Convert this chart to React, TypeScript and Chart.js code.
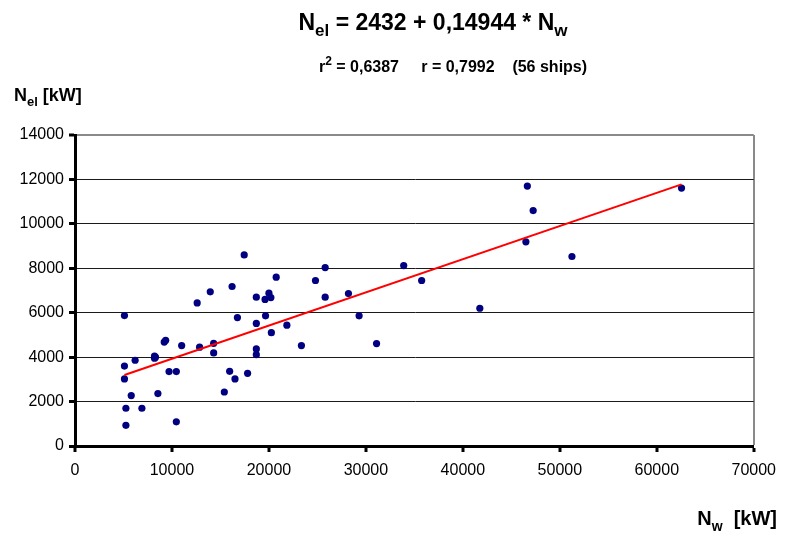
import React, { useEffect, useRef } from "react";
import { Chart, registerables } from "chart.js";

Chart.register(...registerables);

// Measured ships: installed power N_w [kW] vs electric power N_el [kW]
const shipNw: number[] = [
  5100, 5100, 5100, 5800, 5250, 5250, 6200, 6900, 8200, 8200,
  8550, 9200, 9350, 9700, 10450, 10450, 11000, 12600, 13950, 12850,
  14300, 14300, 15400, 15950, 16500, 16200, 16750, 17800, 18700, 18700,
  18700, 18700, 17450, 20750, 24800, 25800, 25800, 19600, 20000, 20200,
  19650, 20250, 21850, 23350, 28200, 29300, 31100, 33900, 35750, 41750,
  46650, 47250, 46500, 51250, 62550, 8300,
];
const shipNel: number[] = [
  5870, 3600, 3020, 2270, 1700, 930, 3860, 1700, 4050, 3950,
  2360, 4680, 4760, 3350, 3350, 1090, 4520, 6440, 6940, 4450,
  4620, 4190, 2430, 3360, 3020, 7180, 5780, 3270, 6700, 5520,
  4370, 4110, 8600, 7600, 7450, 8030, 6700, 6600, 6880, 6680,
  5860, 5100, 5440, 4520, 6860, 5860, 4610, 8120, 7450, 6200,
  11700, 10600, 9190, 8530, 11610, 4000,
];

// Regression line end points (N_el = 2432 + 0,14944 * N_w)
const regNw: number[] = [5100, 62550];
const regNel: number[] = [3194, 11779];

const xTicks: number[] = [0, 10000, 20000, 30000, 40000, 50000, 60000, 70000];
const yTicks: number[] = [0, 2000, 4000, 6000, 8000, 10000, 12000, 14000];

const FONT = "'Liberation Sans', Arial, Helvetica, sans-serif";

type Seg = { t: string; sub?: boolean; sup?: boolean };

function drawRich(
  ctx: CanvasRenderingContext2D,
  segs: Seg[],
  x: number,
  y: number,
  size: number,
  align: "left" | "center" | "right"
) {
  const subSize = Math.round(size * 0.72);
  const widths = segs.map((s) => {
    ctx.font = `bold ${s.sub || s.sup ? subSize : size}px ${FONT}`;
    return ctx.measureText(s.t).width;
  });
  const total = widths.reduce((a, b) => a + b, 0);
  let cx = align === "left" ? x : align === "center" ? x - total / 2 : x - total;
  ctx.textAlign = "left";
  ctx.textBaseline = "alphabetic";
  ctx.fillStyle = "#000";
  segs.forEach((s, i) => {
    ctx.font = `bold ${s.sub || s.sup ? subSize : size}px ${FONT}`;
    let dy = 0;
    if (s.sub) dy = size * 0.28;
    if (s.sup) dy = -size * 0.45;
    ctx.fillText(s.t, cx, y + dy);
    cx += widths[i];
  });
}

const textPlugin = {
  id: "texts",
  afterDraw(chart: any) {
    const ctx: CanvasRenderingContext2D = chart.ctx;
    ctx.save();
    drawRich(
      ctx,
      [
        { t: "N" },
        { t: "el", sub: true },
        { t: " = 2432 + 0,14944 * " },
        { t: "N" },
        { t: "w", sub: true },
      ],
      433,
      30,
      23,
      "center"
    );
    drawRich(
      ctx,
      [
        { t: "r" },
        { t: "2", sup: true },
        { t: " = 0,6387     r = 0,7992    (56 ships)" },
      ],
      453,
      72,
      16,
      "center"
    );
    drawRich(ctx, [{ t: "N" }, { t: "el", sub: true }, { t: " [kW]" }], 14, 101, 18, "left");
    drawRich(ctx, [{ t: "N" }, { t: "w", sub: true }, { t: "  [kW]" }], 777, 525, 20, "right");
    ctx.restore();
  },
};

export default function App() {
  const ref = useRef<HTMLCanvasElement | null>(null);

  useEffect(() => {
    document.body.style.margin = "0";
    const canvas = ref.current;
    if (!canvas) return;
    const chart = new Chart(canvas, {
      type: "scatter",
      data: {
        datasets: [
          {
            type: "line",
            data: regNw.map((x, i) => ({ x, y: regNel[i] })),
            borderColor: "#ff0000",
            borderWidth: 2,
            pointRadius: 0,
            fill: false,
            order: 1,
          } as any,
          {
            type: "scatter",
            data: shipNw.map((x, i) => ({ x, y: shipNel[i] })),
            backgroundColor: "#000080",
            borderColor: "#000080",
            pointRadius: 3.6,
            pointBorderWidth: 0,
            order: 2,
          },
        ],
      },
      options: {
        animation: false,
        responsive: false,
        devicePixelRatio: 1,
        layout: { padding: { left: 0, top: 135, right: 31, bottom: 0 } },
        plugins: {
          legend: { display: false },
          tooltip: { enabled: false },
          title: { display: false },
        },
        scales: {
          x: {
            type: "linear",
            min: 0,
            max: 70000,
            afterFit: (s: any) => {
              s.height = 87;
            },
            afterBuildTicks: (s: any) => {
              s.ticks = xTicks.map((v) => ({ value: v }));
            },
            border: { display: true, color: "#000", width: 3 },
            grid: {
              drawOnChartArea: true,
              drawTicks: true,
              tickLength: 6,
              tickWidth: 3,
              tickColor: "#000",
              color: (c: any) => (c.tick && c.tick.value === 70000 ? "#8a8a8a" : "rgba(0,0,0,0)"),
              lineWidth: (c: any) => (c.tick && c.tick.value === 70000 ? 2 : 0),
            },
            ticks: {
              color: "#000",
              padding: 9,
              maxRotation: 0,
              autoSkip: false,
              font: { family: FONT, size: 16 },
              callback: (v: any) => String(v),
            },
          },
          y: {
            type: "linear",
            min: 0,
            max: 14000,
            afterFit: (s: any) => {
              s.width = 75;
            },
            afterBuildTicks: (s: any) => {
              s.ticks = yTicks.map((v) => ({ value: v }));
            },
            border: { display: true, color: "#000", width: 3 },
            grid: {
              drawOnChartArea: true,
              drawTicks: true,
              tickLength: 6,
              tickWidth: 3,
              tickColor: "#000",
              color: (c: any) => (c.tick && c.tick.value === 14000 ? "#8a8a8a" : "#1a1a1a"),
              lineWidth: (c: any) => (c.tick && c.tick.value === 14000 ? 2 : 1),
            },
            ticks: {
              color: "#000",
              padding: 5,
              autoSkip: false,
              font: { family: FONT, size: 16 },
              callback: (v: any) => String(v),
            },
          },
        },
      },
      plugins: [textPlugin],
    });
    return () => chart.destroy();
  }, []);

  return (
    <div style={{ width: 785, height: 533, background: "#fff" }}>
      <canvas ref={ref} width={785} height={533} style={{ display: "block" }} />
    </div>
  );
}
